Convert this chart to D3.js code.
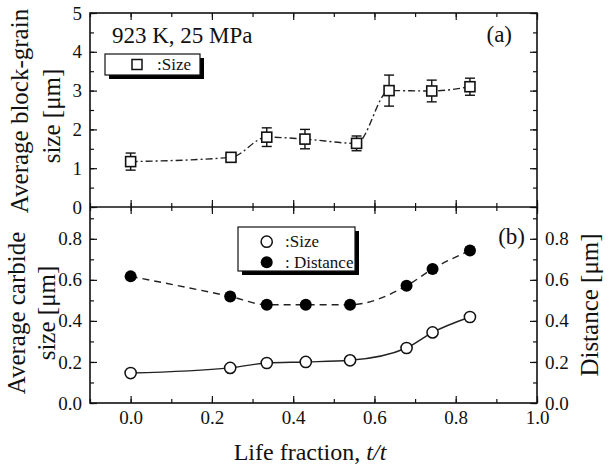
<!DOCTYPE html>
<html>
<meta charset="utf-8">
<style>
body { margin: 0; background: #fff; }
svg text { font-family: "Liberation Serif", "Times New Roman", serif; fill: #111; }
.axis path { stroke: none; }
.axis line { stroke: #111; stroke-width: 1.2; }
.frame { fill: none; stroke: #111; stroke-width: 1.6; }
</style>
<body>
<div id="chart"></div>
<script src="https://d3js.org/d3.v7.min.js"></script>
<script>

// panel (a): block-grain size
var lifeA = [0, 0.247, 0.335, 0.429, 0.556, 0.636, 0.741, 0.835];
var blockSize = [1.17, 1.28, 1.80, 1.75, 1.64, 3.00, 2.99, 3.10];
var blockErr = [0.22, 0.12, 0.24, 0.25, 0.19, 0.40, 0.28, 0.22];

// panel (b): carbide size and distance
var lifeB = [0, 0.245, 0.335, 0.431, 0.54, 0.679, 0.743, 0.835];
var carbideSize = [0.146, 0.171, 0.195, 0.200, 0.208, 0.268, 0.344, 0.419];
var carbideDist = [0.617, 0.519, 0.479, 0.479, 0.479, 0.571, 0.653, 0.743];

var xTicks = [0, 0.2, 0.4, 0.6, 0.8, 1.0];
var yTicksA = [0, 1, 2, 3, 4, 5];
var yTicksB = [0, 0.2, 0.4, 0.6, 0.8];

var width = 610, height = 464;
var pLeft = 90, pRight = 537, pTop = 13, pMid = 207, pBottom = 403;

var x = d3.scaleLinear().domain([-0.1, 1.0]).range([pLeft, pRight]);
var ya = d3.scaleLinear().domain([0, 5]).range([pMid, pTop]);
var yb = d3.scaleLinear().domain([0, 0.955]).range([pBottom, pMid]);

var svg = d3.select("#chart").append("svg")
    .attr("width", width)
    .attr("height", height);

var minorX = d3.range(-0.1, 1.001, 0.1).map(function(d) { return +d.toFixed(2); });

// ticks, all pointing inward
function ticks(axis, scale, major, minor, pos, labels, fmt) {
  var g = svg.append("g").attr("class", "axis").attr("transform", pos);
  g.call(axis(scale).tickValues(minor).tickSize(-4).tickFormat(""));
  var g2 = svg.append("g").attr("class", "axis").attr("transform", pos);
  g2.call(axis(scale).tickValues(major).tickSize(-7).tickPadding(labels ? 8 : 0)
    .tickFormat(labels ? fmt : ""));
  g2.attr("font-family", null).attr("font-size", null);
  g2.selectAll("text")
    .style("font-family", "'Liberation Serif', serif")
    .style("font-size", "19px");
}

// panel a
ticks(d3.axisLeft, ya, yTicksA, d3.range(0, 5.01, 0.5), "translate(" + pLeft + ",0)", true, d3.format("d"));
ticks(d3.axisRight, ya, yTicksA, d3.range(0, 5.01, 0.5), "translate(" + pRight + ",0)", false);
ticks(d3.axisTop, x, xTicks, minorX, "translate(0," + pTop + ")", false);
ticks(d3.axisBottom, x, xTicks, minorX, "translate(0," + pMid + ")", false);

// panel b
var minorB = d3.range(0, 0.951, 0.1).map(function(d) { return +d.toFixed(2); });
ticks(d3.axisLeft, yb, yTicksB, minorB, "translate(" + pLeft + ",0)", true, d3.format(".1f"));
ticks(d3.axisRight, yb, yTicksB, minorB, "translate(" + pRight + ",0)", true, d3.format(".1f"));
ticks(d3.axisTop, x, xTicks, minorX, "translate(0," + pMid + ")", false);
ticks(d3.axisBottom, x, xTicks, minorX, "translate(0," + pBottom + ")", true, d3.format(".1f"));

svg.append("rect").attr("class", "frame")
    .attr("x", pLeft).attr("y", pTop).attr("width", pRight - pLeft).attr("height", pBottom - pTop);
svg.append("line").attr("class", "frame")
    .attr("x1", pLeft).attr("x2", pRight).attr("y1", pMid).attr("y2", pMid);

// ---- panel a data
var ptsA = lifeA.map(function(d, i) { return [d, blockSize[i], blockErr[i]]; });

var lineA = d3.line()
    .x(function(d) { return x(d[0]); })
    .y(function(d) { return ya(d[1]); })
    .curve(d3.curveMonotoneX);

svg.append("path")
    .datum(ptsA)
    .attr("d", lineA)
    .attr("fill", "none")
    .attr("stroke", "#222")
    .attr("stroke-width", 1.4)
    .attr("stroke-dasharray", "7,3,2,3");

var eb = svg.append("g").attr("stroke", "#111").attr("stroke-width", 1.4);
ptsA.forEach(function(d) {
  var cx = x(d[0]);
  eb.append("line").attr("x1", cx).attr("x2", cx)
    .attr("y1", ya(d[1] - d[2])).attr("y2", ya(d[1] + d[2]));
  [d[1] - d[2], d[1] + d[2]].forEach(function(v) {
    eb.append("line").attr("x1", cx - 5).attr("x2", cx + 5)
      .attr("y1", ya(v)).attr("y2", ya(v));
  });
});

svg.selectAll(".sq")
    .data(ptsA)
    .enter().append("rect")
    .attr("x", function(d) { return x(d[0]) - 5; })
    .attr("y", function(d) { return ya(d[1]) - 5; })
    .attr("width", 10).attr("height", 10)
    .attr("fill", "#fff").attr("stroke", "#111").attr("stroke-width", 1.6);

// ---- panel b data
var lineB = d3.line()
    .x(function(d) { return x(d[0]); })
    .y(function(d) { return yb(d[1]); })
    .curve(d3.curveMonotoneX);

var sizePts = lifeB.map(function(d, i) { return [d, carbideSize[i]]; });
var distPts = lifeB.map(function(d, i) { return [d, carbideDist[i]]; });

svg.append("path").datum(distPts).attr("d", lineB)
    .attr("fill", "none").attr("stroke", "#222").attr("stroke-width", 1.4)
    .attr("stroke-dasharray", "7,5");
svg.append("path").datum(sizePts).attr("d", lineB)
    .attr("fill", "none").attr("stroke", "#222").attr("stroke-width", 1.4);

svg.selectAll(".dist").data(distPts).enter().append("circle")
    .attr("cx", function(d) { return x(d[0]); })
    .attr("cy", function(d) { return yb(d[1]); })
    .attr("r", 6).attr("fill", "#000");
svg.selectAll(".size").data(sizePts).enter().append("circle")
    .attr("cx", function(d) { return x(d[0]); })
    .attr("cy", function(d) { return yb(d[1]); })
    .attr("r", 5.6).attr("fill", "#fff").attr("stroke", "#111").attr("stroke-width", 1.5);

// ---- legends
function legendBox(x0, y0, w, h) {
  svg.append("rect").attr("x", x0 + 4).attr("y", y0 + 4).attr("width", w).attr("height", h).attr("fill", "#000");
  svg.append("rect").attr("x", x0).attr("y", y0).attr("width", w).attr("height", h)
    .attr("fill", "#fff").attr("stroke", "#111").attr("stroke-width", 1.2);
}
legendBox(105, 54, 95, 21);
svg.append("rect").attr("x", 132).attr("y", 59.5).attr("width", 10).attr("height", 10)
    .attr("fill", "#fff").attr("stroke", "#111").attr("stroke-width", 1.5);
svg.append("text").attr("x", 157).attr("y", 70).style("font-size", "17px").text(":Size");

legendBox(238, 227, 117, 44);
svg.append("circle").attr("cx", 266.7).attr("cy", 241.7).attr("r", 5.6)
    .attr("fill", "#fff").attr("stroke", "#111").attr("stroke-width", 1.5);
svg.append("circle").attr("cx", 266.7).attr("cy", 262.3).attr("r", 6).attr("fill", "#000");
svg.append("text").attr("x", 285).attr("y", 247).style("font-size", "17px").text(":Size");
svg.append("text").attr("x", 285).attr("y", 268).style("font-size", "17px").text(": Distance");

// ---- annotations
svg.append("text").attr("x", 112).attr("y", 43).style("font-size", "23px").text("923 K, 25 MPa");
svg.append("text").attr("x", 512).attr("y", 42).attr("text-anchor", "end").style("font-size", "23px").text("(a)");
svg.append("text").attr("x", 525).attr("y", 244).attr("text-anchor", "end").style("font-size", "23px").text("(b)");

function vlabel(xp, yp, txt) {
  svg.append("text")
    .attr("transform", "translate(" + xp + "," + yp + ") rotate(-90)")
    .attr("text-anchor", "middle")
    .style("font-size", "25px")
    .text(txt);
}
vlabel(28, 111, "Average block-grain");
vlabel(60, 116, "size [\u03bcm]");
vlabel(25, 313, "Average carbide");
vlabel(55, 313, "size [\u03bcm]");
vlabel(598, 305, "Distance [\u03bcm]");

var xl = svg.append("text").attr("x", 310).attr("y", 460).attr("text-anchor", "middle")
    .style("font-size", "24px");
xl.append("tspan").text("Life fraction, ");
xl.append("tspan").style("font-style", "italic").text("t/t");

</script>
</body>
</html>
